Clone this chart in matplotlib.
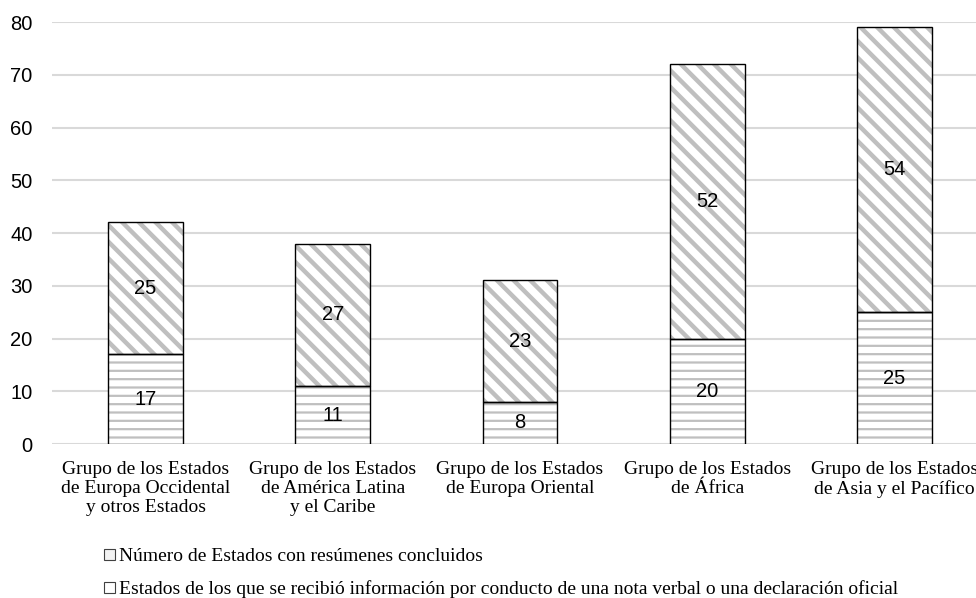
import numpy as np
import matplotlib.pyplot as plt
from matplotlib.patches import Patch

# ---------------- Data ----------------
categories = [
    "Grupo de los Estados\nde Europa Occidental\ny otros Estados",
    "Grupo de los Estados\nde América Latina\ny el Caribe",
    "Grupo de los Estados\nde Europa Oriental",
    "Grupo de los Estados\nde África",
    "Grupo de los Estados\nde Asia y el Pacífico",
]
concluded = [17, 11, 8, 20, 25]
verbal_note = [25, 27, 23, 52, 54]

label_concluded = "Número de Estados con resúmenes concluidos"
label_verbal = ("Estados de los que se recibió información por conducto de una "
                "nota verbal o una declaración oficial")

hatch_gray = "#bfbfbf"
grid_gray = "#d9d9d9"

# ---------------- Figure ----------------
fig = plt.figure(figsize=(9.76, 5.98), dpi=100)
ax = fig.add_axes([0.0533, 0.2575, 0.9590, 0.7057])

x = np.arange(len(categories))
width = 0.4

# hatched fills (hatch colour comes from edgecolor, so outlines drawn separately)
plt.rcParams['hatch.linewidth'] = 1.6
ax.bar(x, concluded, width, color="white", edgecolor=hatch_gray,
       hatch="--", linewidth=0, zorder=2)
plt.rcParams['hatch.linewidth'] = 3.2
ax.bar(x, verbal_note, width, bottom=concluded, color="white",
       edgecolor=hatch_gray, hatch="\\\\", linewidth=0, zorder=2)

# black outlines
ax.bar(x, concluded, width, fill=False, edgecolor="black", linewidth=1.0, zorder=3)
ax.bar(x, verbal_note, width, bottom=concluded, fill=False,
       edgecolor="black", linewidth=1.0, zorder=3)

# value labels centred in each segment
for xi, a, b in zip(x, concluded, verbal_note):
    ax.text(xi, a / 2, str(a), ha="center", va="center",
            fontsize=14.5, family="Liberation Sans", zorder=4)
    ax.text(xi, a + b / 2, str(b), ha="center", va="center",
            fontsize=14.5, family="Liberation Sans", zorder=4)

ax.set_xlim(-0.5, len(categories) - 0.5)
ax.set_ylim(0, 80)
ax.set_yticks(range(0, 81, 10))
ax.yaxis.grid(True, color=grid_gray, linewidth=1.5, zorder=0)
ax.set_axisbelow(True)

for s in ax.spines.values():
    s.set_visible(False)
ax.tick_params(axis="both", length=0)
ax.tick_params(axis="y", pad=14)
for t in ax.get_yticklabels():
    t.set_fontfamily("Liberation Sans")
    t.set_fontsize(14.5)

ax.set_xticks(x)
ax.set_xticklabels(categories, family="Liberation Serif", fontsize=14,
                   linespacing=1.15)
ax.tick_params(axis="x", pad=12)

# legend
handles = [
    Patch(facecolor="#f2f2f2", edgecolor="#404040", linewidth=0.8, label=label_concluded),
    Patch(facecolor="white", edgecolor="#404040", linewidth=0.8, label=label_verbal),
]
fig.legend(handles=handles, loc="upper left", bbox_to_anchor=(0.099, 0.096),
           frameon=False, prop={"family": "Liberation Serif", "size": 14},
           handlelength=0.55, handleheight=0.55, handletextpad=0.2,
           labelspacing=0.78, borderaxespad=0)

fig.savefig("out.png", dpi=100)
